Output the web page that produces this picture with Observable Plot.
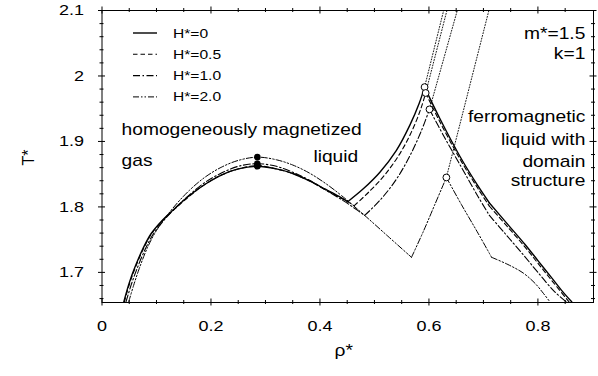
<!DOCTYPE html>
<html>
<head>
<meta charset="utf-8">
<script src="https://cdn.jsdelivr.net/npm/d3@7"></script>
<script src="https://cdn.jsdelivr.net/npm/@observablehq/plot@0.6"></script>
<style>
  body { margin: 0; background: #fff; }
  #chart svg { display: block; }
</style>
</head>
<body>
<div id="chart"></div>
<script>
// Axis ticks
const majorX = [0, 0.2, 0.4, 0.6, 0.8];
const minorX = [0.05, 0.1, 0.15, 0.25, 0.3, 0.35, 0.45, 0.5, 0.55, 0.65, 0.7, 0.75, 0.85];
const majorY = [1.7, 1.8, 1.9, 2.0, 2.1];
const minorY = [1.66, 1.68, 1.72, 1.74, 1.76, 1.78, 1.82, 1.84, 1.86, 1.88,
                1.92, 1.94, 1.96, 1.98, 2.02, 2.04, 2.06, 2.08];

// Field strengths
const fieldLabels = ["H*=0", "H*=0.5", "H*=1.0", "H*=2.0"];

// Gas–liquid coexistence, [ρ*, T*]
const gasLiquidH0 = [[0.040,1.655],[0.050,1.684],[0.060,1.707],[0.075,1.736],[0.090,1.759],[0.110,1.779],[0.130,1.795],[0.160,1.817],[0.190,1.835],[0.220,1.849],[0.250,1.858],[0.285,1.862],[0.320,1.858],[0.350,1.851],[0.380,1.840],[0.410,1.827],[0.435,1.816],[0.451,1.808]];
const gasLiquidH05 = [[0.041,1.655],[0.051,1.684],[0.061,1.707],[0.076,1.736],[0.091,1.759],[0.111,1.779],[0.131,1.795],[0.160,1.816],[0.190,1.835],[0.220,1.849],[0.250,1.858],[0.285,1.863],[0.320,1.858],[0.350,1.851],[0.380,1.840],[0.410,1.826],[0.440,1.813],[0.463,1.802]];
const gasLiquidH1 = [[0.044,1.655],[0.054,1.682],[0.064,1.705],[0.078,1.733],[0.093,1.757],[0.112,1.778],[0.132,1.796],[0.160,1.818],[0.190,1.838],[0.220,1.852],[0.250,1.862],[0.285,1.866],[0.320,1.862],[0.350,1.853],[0.380,1.841],[0.410,1.826],[0.440,1.811],[0.460,1.800],[0.482,1.787]];
const gasLiquidH2 = [[0.049,1.655],[0.058,1.680],[0.068,1.705],[0.083,1.737],[0.100,1.764],[0.129,1.797],[0.160,1.825],[0.190,1.846],[0.220,1.861],[0.250,1.871],[0.285,1.876],[0.320,1.872],[0.350,1.864],[0.380,1.852],[0.410,1.836],[0.440,1.817],[0.482,1.787],[0.525,1.755],[0.568,1.723]];

// Liquid side of the liquid–ferromagnetic coexistence (ends at the tricritical point)
const liquidFerroH0 = [[0.451,1.808],[0.480,1.828],[0.510,1.853],[0.540,1.886],[0.565,1.925],[0.582,1.958]];
const liquidFerroH05 = [[0.463,1.802],[0.490,1.823],[0.520,1.850],[0.550,1.886],[0.572,1.922],[0.586,1.952]];
const liquidFerroH1 = [[0.482,1.787],[0.510,1.810],[0.540,1.842],[0.565,1.878],[0.585,1.914]];
const liquidFerroH2 = [[0.568,1.723],[0.590,1.763],[0.610,1.802]];

// Ferromagnetic side above the triple point (starts after the tricritical point)
const ferroUpperH0 = [[0.620,1.935],[0.657,1.877],[0.690,1.832],[0.711,1.806]];
const ferroUpperH05 = [[0.620,1.930],[0.657,1.873],[0.690,1.828],[0.711,1.801]];
const ferroUpperH1 = [[0.630,1.904],[0.660,1.860],[0.690,1.816],[0.711,1.787]];
const ferroUpperH2 = [[0.660,1.803],[0.690,1.760],[0.715,1.723]];

// Ferromagnetic side below the triple point
const ferroLowerH0 = [[0.745,1.773],[0.776,1.743],[0.800,1.718],[0.825,1.692],[0.845,1.671],[0.862,1.655]];
const ferroLowerH05 = [[0.745,1.769],[0.776,1.739],[0.800,1.714],[0.825,1.688],[0.857,1.655]];
const ferroLowerH1 = [[0.740,1.759],[0.770,1.730],[0.800,1.700],[0.830,1.671],[0.852,1.655]];
const ferroLowerH2 = [[0.745,1.712],[0.773,1.699],[0.795,1.683],[0.810,1.668],[0.822,1.655]];

// Critical points (gas–liquid) and tricritical points
const critical = [[0.285,1.862],[0.285,1.863],[0.285,1.866],[0.285,1.876]];
const tricritical = [[0.592,1.983],[0.594,1.974],[0.601,1.949],[0.632,1.845]];

// λ-lines leave the tricritical points and reach the top of the frame here
const lambdaTop = [[0.627,2.1],[0.633,2.1],[0.652,2.1],[0.710,2.1]];

const gasLiquid = [gasLiquidH0, gasLiquidH05, gasLiquidH1, gasLiquidH2];
const liquidFerro = [liquidFerroH0, liquidFerroH05, liquidFerroH1, liquidFerroH2];
const ferroUpper = [ferroUpperH0, ferroUpperH05, ferroUpperH1, ferroUpperH2];
const ferroLower = [ferroLowerH0, ferroLowerH05, ferroLowerH1, ferroLowerH2];

const dashes = [null, "4.5,3", "7,2.5,1.5,2.5", "6,2,1.5,2,1.5,2"];
const widths = [1.4, 1.1, 1.1, 1.0];

const xDomain = [0, 0.902];
const yDomain = [1.654, 2.1];

function toRows(field, seg, pts) {
  return pts.map(([rho, t]) => ({field, seg, rho, t}));
}

const curveMarks = fieldLabels.flatMap((_, i) => {
  const tri = tricritical[i];
  const kink = ferroUpper[i][ferroUpper[i].length - 1];
  const rows = [
    ...toRows(i, 0, gasLiquid[i]),
    ...toRows(i, 1, [...liquidFerro[i], tri]),
    ...toRows(i, 2, [tri, ...ferroUpper[i]]),
    ...toRows(i, 3, [kink, ...ferroLower[i]])
  ];
  return [
    Plot.line(rows, {x: "rho", y: "t", z: "seg", curve: "catmull-rom",
      stroke: "#000", strokeWidth: widths[i], strokeDasharray: dashes[i]}),
    Plot.line(toRows(i, 4, [tri, lambdaTop[i]]), {x: "rho", y: "t",
      stroke: "#000", strokeWidth: 0.9, strokeDasharray: "1,1.8"})
  ];
});

const pts = a => a.map(([rho, t]) => ({rho, t}));

// Legend drawn inside the frame, upper left
function legend(index, scales, values, dims) {
  const g = d3.create("svg:g").attr("text-anchor", "start")
    .attr("font-size", 13).attr("fill", "#000");
  fieldLabels.forEach((lab, i) => {
    const y = dims.marginTop + 23 + i * 21.3;
    const x0 = dims.marginLeft + 31.5;
    g.append("line")
      .attr("x1", x0).attr("x2", x0 + 24).attr("y1", y).attr("y2", y)
      .attr("stroke", "#000").attr("stroke-width", widths[i])
      .attr("stroke-dasharray", dashes[i]);
    g.append("text").attr("x", x0 + 40).attr("y", y).attr("dy", "0.35em").text(lab);
  });
  return g.node();
}

const fmt = d => String(+d.toFixed(2));
const y0 = yDomain[0], y1 = yDomain[1], x0 = xDomain[0], x1 = xDomain[1];

const chart = Plot.plot({
  width: 598,
  height: 376,
  marginTop: 10,
  marginBottom: 74,
  marginLeft: 101.5,
  marginRight: 5,
  style: {fontFamily: "'Liberation Sans', Arial, sans-serif", background: "#fff", color: "#000"},
  x: {domain: xDomain},
  y: {domain: yDomain},
  marks: [
    Plot.frame({stroke: "#000", strokeWidth: 1}),
    // major and minor ticks crossing all four sides of the frame
    Plot.ruleX(majorX, {x: d => d, y1: y0, y2: y0, insetTop: -3.5, insetBottom: -3.5, stroke: "#000"}),
    Plot.ruleX(majorX, {x: d => d, y1: y1, y2: y1, insetTop: -3.5, insetBottom: -3.5, stroke: "#000"}),
    Plot.ruleX(minorX, {x: d => d, y1: y0, y2: y0, insetTop: -2, insetBottom: -2, stroke: "#000"}),
    Plot.ruleX(minorX, {x: d => d, y1: y1, y2: y1, insetTop: -2, insetBottom: -2, stroke: "#000"}),
    Plot.ruleY(majorY, {y: d => d, x1: x0, x2: x0, insetLeft: -3.5, insetRight: -3.5, stroke: "#000"}),
    Plot.ruleY(majorY, {y: d => d, x1: x1, x2: x1, insetLeft: -3.5, insetRight: -3.5, stroke: "#000"}),
    Plot.ruleY(minorY, {y: d => d, x1: x0, x2: x0, insetLeft: -2, insetRight: -2, stroke: "#000"}),
    Plot.ruleY(minorY, {y: d => d, x1: x1, x2: x1, insetLeft: -2, insetRight: -2, stroke: "#000"}),
    Plot.axisX({ticks: majorX, tickSize: 0, tickPadding: 18, tickFormat: fmt, label: null, fontSize: 15}),
    Plot.axisY({ticks: majorY, tickSize: 0, tickPadding: 18, tickFormat: fmt, label: null, fontSize: 15}),
    Plot.text(["ρ*"], {frameAnchor: "bottom", dx: -4, dy: 53, fontSize: 16}),
    Plot.text(["T*"], {frameAnchor: "left", dx: -73.5, dy: 9, rotate: -90, fontSize: 16}),
    ...curveMarks,
    Plot.dot(pts(critical), {x: "rho", y: "t", r: 3.3, fill: "#000"}),
    Plot.dot(pts(tricritical), {x: "rho", y: "t", r: 3.4, fill: "#fff", stroke: "#000", strokeWidth: 1}),
    // region labels
    Plot.text(["homogeneously magnetized"], {x: 0.036, y: 1.917, textAnchor: "start", fontSize: 16}),
    Plot.text(["gas"], {x: 0.036, y: 1.871, textAnchor: "start", fontSize: 16}),
    Plot.text(["liquid"], {x: 0.388, y: 1.876, textAnchor: "start", fontSize: 16}),
    Plot.text(["m*=1.5", "k=1"], {x: 0.887, y: [2.065, 2.034], textAnchor: "end", fontSize: 16}),
    Plot.text(["ferromagnetic", "liquid with", "domain", "structure"],
      {x: 0.887, y: [1.937, 1.902, 1.869, 1.840], textAnchor: "end", fontSize: 16}),
    legend
  ]
});

document.getElementById("chart").append(chart);

// Widen the lettering horizontally, anchored where each label is aligned
chart.querySelectorAll("text").forEach(t => {
  const tr = t.getAttribute("transform") || "";
  if (tr.includes("rotate")) return;
  const b = t.getBBox();
  const anchor = getComputedStyle(t).textAnchor;
  const cx = anchor === "end" ? b.x + b.width : anchor === "start" ? b.x : b.x + b.width / 2;
  t.setAttribute("transform", `${tr} translate(${cx},0) scale(1.2,1) translate(${-cx},0)`.trim());
});
</script>
</body>
</html>
